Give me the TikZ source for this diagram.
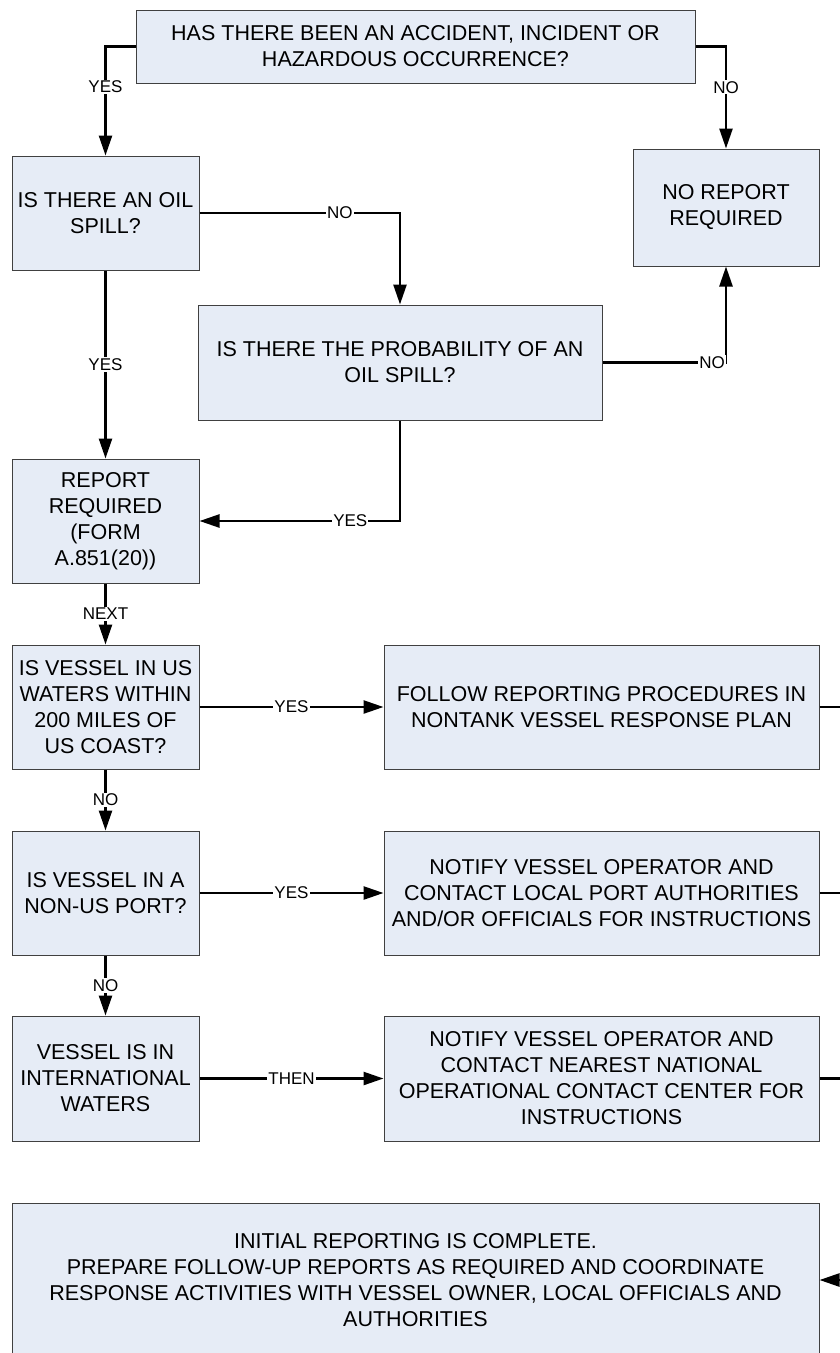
\documentclass[tikz,border=0pt]{standalone}
\usepackage{fontspec}
\setmainfont{Liberation Sans}
\usetikzlibrary{arrows.meta}
\definecolor{boxfill}{HTML}{E6ECF6}
\definecolor{boxline}{HTML}{404040}
\begin{document}
\begin{tikzpicture}[x=1pt,y=-1pt,
 box/.style={draw=boxline, fill=boxfill, line width=1pt, inner sep=0pt, align=center, font=\fontsize{21.5}{26}\selectfont},
 conn/.style={line width=2.5pt, black},
 arr/.style={conn, -{Triangle[length=20pt,width=13pt]}},
 lbl/.style={fill=white, inner sep=1pt, font=\fontsize{17}{20}\selectfont}]
\useasboundingbox[fill=white] (0,0) rectangle (840,1353);

\node[box, minimum width=559pt, minimum height=73pt] (top) at (415.5,46.5) {HAS THERE BEEN AN ACCIDENT, INCIDENT OR\\HAZARDOUS OCCURRENCE?};
\node[box, minimum width=187pt, minimum height=114pt] (oil) at (105.5,213) {IS THERE AN OIL\\SPILL?};
\node[box, minimum width=186pt, minimum height=117pt] (noreport) at (726,207.5) {NO REPORT\\REQUIRED};
\node[box, minimum width=404pt, minimum height=115pt] (prob) at (400,362.5) {IS THERE THE PROBABILITY OF AN\\OIL SPILL?};
\node[box, minimum width=187pt, minimum height=124pt] (report) at (105.5,521) {REPORT\\REQUIRED\\(FORM\\A.851(20))};
\node[box, minimum width=187pt, minimum height=124pt] (us) at (105.5,707) {IS VESSEL IN US\\WATERS WITHIN\\200 MILES OF\\US COAST?};
\node[box, minimum width=435pt, minimum height=124pt] (follow) at (601.5,707) {FOLLOW REPORTING PROCEDURES IN\\NONTANK VESSEL RESPONSE PLAN};
\node[box, minimum width=187pt, minimum height=124pt] (nonus) at (105.5,893) {IS VESSEL IN A\\NON-US PORT?};
\node[box, minimum width=435pt, minimum height=124pt] (notify1) at (601.5,893) {NOTIFY VESSEL OPERATOR AND\\CONTACT LOCAL PORT AUTHORITIES\\AND/OR OFFICIALS FOR INSTRUCTIONS};
\node[box, minimum width=187pt, minimum height=125pt] (intl) at (105.5,1078.5) {VESSEL IS IN\\INTERNATIONAL\\WATERS};
\node[box, minimum width=435pt, minimum height=125pt] (notify2) at (601.5,1078.5) {NOTIFY VESSEL OPERATOR AND\\CONTACT NEAREST NATIONAL\\OPERATIONAL CONTACT CENTER FOR\\INSTRUCTIONS};
\node[box, minimum width=807pt, minimum height=154pt] (bottom) at (415.5,1280) {INITIAL REPORTING IS COMPLETE.\\PREPARE FOLLOW-UP REPORTS AS REQUIRED AND COORDINATE\\RESPONSE ACTIVITIES WITH VESSEL OWNER, LOCAL OFFICIALS AND\\AUTHORITIES};

\coordinate (edge) at (850,0);

\draw[arr] (top.west) -| node[lbl, pos=0.686] {YES} (oil.north);
\draw[arr] (top.east) -| node[lbl, pos=0.70] {NO} (noreport.north);
\draw[arr] (oil.east) -| node[lbl, pos=0.35] {NO} (prob.north);
\draw[arr] (oil.south) -- node[lbl] {YES} (report.north);
\draw[arr] (prob.east) -| node[lbl, pos=0.444] {NO} (noreport.south);
\draw[arr] (prob.south) |- node[lbl, pos=0.624] {YES} (report.east);
\draw[arr] (report.south) -- node[lbl] {NEXT} (us.north);
\draw[arr] (us.east) -- node[lbl] {YES} (follow.west);
\draw[arr] (us.south) -- node[lbl] {NO} (nonus.north);
\draw[arr] (nonus.east) -- node[lbl] {YES} (notify1.west);
\draw[arr] (nonus.south) -- node[lbl] {NO} (intl.north);
\draw[arr] (intl.east) -- node[lbl] {THEN} (notify2.west);
\draw[conn] (follow.east) -- (follow.east -| edge);
\draw[conn] (notify1.east) -- (notify1.east -| edge);
\draw[conn] (notify2.east) -- (notify2.east -| edge);
\draw[arr] (bottom.east -| edge) -- (bottom.east);
\end{tikzpicture}
\end{document}
